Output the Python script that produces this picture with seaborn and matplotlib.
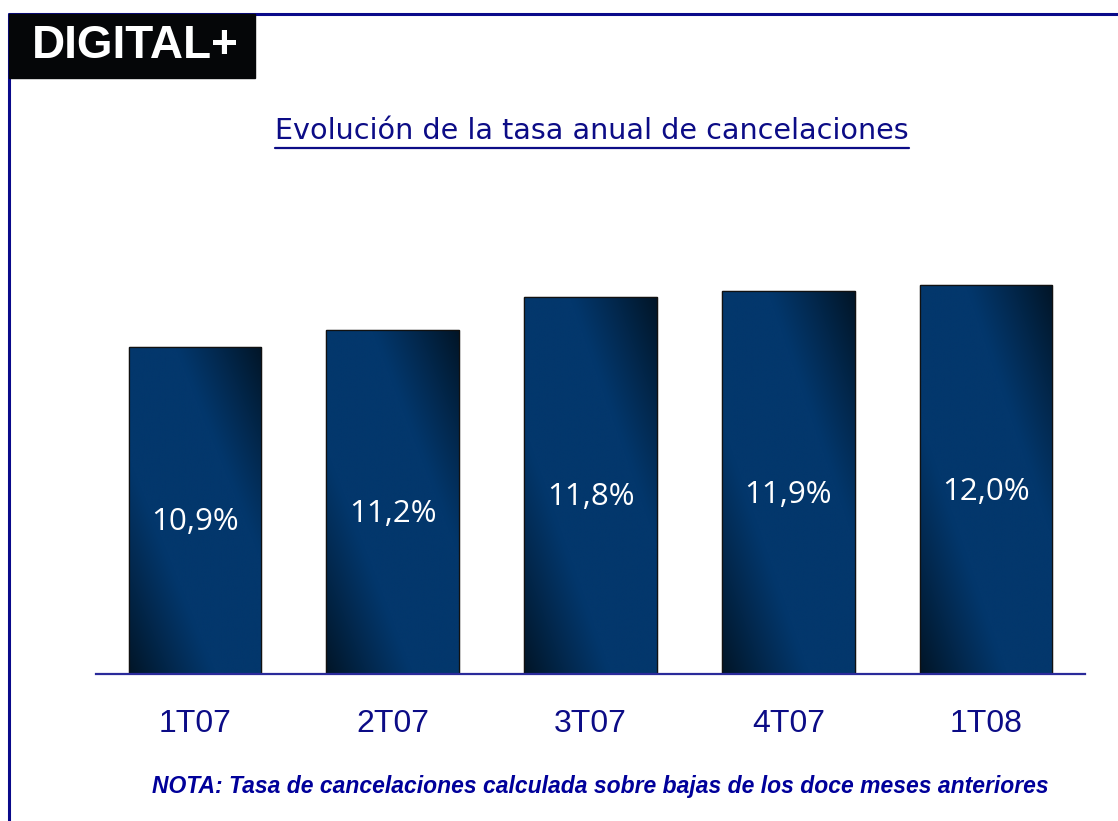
import matplotlib.pyplot as plt
import matplotlib.colors as mcolors
import numpy as np
import pandas as pd
import seaborn as sns
from matplotlib.lines import Line2D
from matplotlib.patches import Rectangle

# datos del gráfico
trimestres = ['1T07', '2T07', '3T07', '4T07', '1T08']
tasa = [10.9, 11.2, 11.8, 11.9, 12.0]
etiquetas = ['10,9%', '11,2%', '11,8%', '11,9%', '12,0%']

titulo = 'Evolución de la tasa anual de cancelaciones'
nota = 'NOTA: Tasa de cancelaciones calculada sobre bajas de los doce meses anteriores'

azul = '#0c0c86'
claro = np.array(mcolors.to_rgb('#03376c'))
oscuro = np.array(mcolors.to_rgb('#011527'))

sns.set_style('white')
plt.rcParams['font.family'] = ['DejaVu Sans']

df = pd.DataFrame({'trimestre': trimestres, 'tasa': tasa})

fig = plt.figure(figsize=(11.18, 8.21), dpi=100)
ax = fig.add_axes([96 / 1118, 1 - 674 / 821, (1085 - 96) / 1118, (674 - 180) / 821])

sns.barplot(data=df, x='trimestre', y='tasa', color=claro, width=0.67,
            edgecolor='#111111', linewidth=0.9, ax=ax)

ymin = 5.0
ax.set_ylim(ymin, 13.9)
ax.set_xlim(-0.5, 4.5)


def gradiente(n=200):
    # degradado diagonal: oscuro abajo-izquierda y arriba-derecha
    xs = np.linspace(0, 1, n)
    ys = np.linspace(1, 0, n)
    xx, yy = np.meshgrid(xs, ys)
    t = np.abs(xx + yy - 1)
    k = np.clip((t - 0.35) / 0.65, 0, 1) ** 1.1
    img = claro[None, None, :] * (1 - k[..., None]) + oscuro[None, None, :] * k[..., None]
    return img


for p, lab, v in zip(ax.patches, etiquetas, tasa):
    x0 = p.get_x()
    w = p.get_width()
    y1 = p.get_y() + p.get_height()
    y0 = max(p.get_y(), ymin)
    im = ax.imshow(gradiente(), extent=(x0, x0 + w, y0, y1), aspect='auto',
                   zorder=p.get_zorder() + 0.1, interpolation='bilinear')
    im.set_clip_path(p)
    borde = Rectangle((x0, y0), w, y1 - y0, fill=False, edgecolor='#111111',
                      linewidth=0.9, zorder=p.get_zorder() + 0.2)
    ax.add_patch(borde)
    ax.text(x0 + w / 2, (y0 + y1) / 2 - 0.22, lab, color='white', ha='center',
            va='center', fontsize=22.5, family='Open Sans', zorder=5)

ax.set_xlabel('')
ax.set_ylabel('')
ax.set_yticks([])
sns.despine(ax=ax, left=True)
ax.spines['bottom'].set_color('#2a2a9a')
ax.spines['bottom'].set_linewidth(1.6)
ax.spines['bottom'].set_zorder(10)
ax.tick_params(axis='x', length=0, pad=25, labelsize=23, labelcolor=azul)
for t in ax.get_xticklabels():
    t.set_family('Liberation Sans')

# marco de la diapositiva
fig.add_artist(Line2D([9 / 1118, 1], [1 - 14 / 821] * 2, color='#0a0a8a', lw=2.2))
fig.add_artist(Line2D([9 / 1118] * 2, [1 - 14 / 821, 0], color='#0a0a8a', lw=2.2))

# logo
fig.add_artist(Rectangle((9 / 1118, 1 - 78 / 821), 246 / 1118, 64 / 821,
                         transform=fig.transFigure, color='#050608', zorder=3))
fig.text(135 / 1118, 1 - 46 / 821, 'DIGITAL+', color='white', fontsize=33,
         fontweight='bold', family='Liberation Sans', ha='center', va='center', zorder=4)

# título subrayado
tit = fig.text(592 / 1118, 1 - 131 / 821, titulo, color=azul, fontsize=20.6,
               ha='center', va='center', family='DejaVu Sans')
fig.canvas.draw()
bb = tit.get_window_extent()
fig.add_artist(Line2D([bb.x0 / fig.bbox.width, bb.x1 / fig.bbox.width],
                      [1 - 148 / 821] * 2, color=azul, lw=1.6))

fig.text(600 / 1118, 1 - 786 / 821, nota, color='#00009a', fontsize=16.5,
         fontweight='bold', fontstyle='italic', family='Liberation Sans',
         ha='center', va='center')

fig.savefig('out.png', dpi=100, facecolor='white')
